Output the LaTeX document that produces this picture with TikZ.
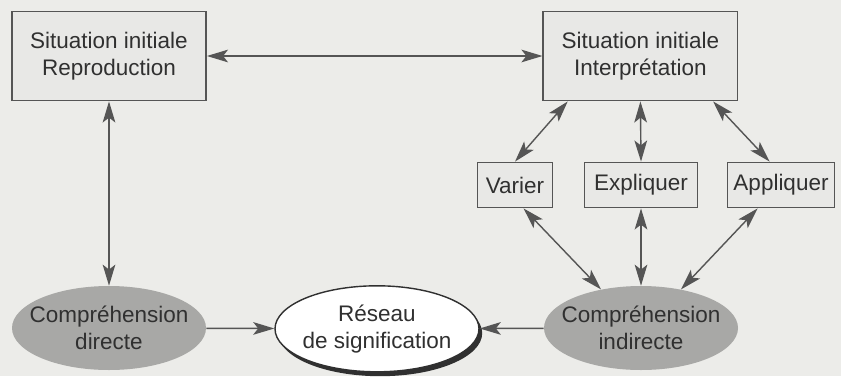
\documentclass[tikz,border=0pt]{standalone}
\usepackage{fontspec}
\setmainfont{Liberation Sans}
\usetikzlibrary{shapes.geometric,arrows.meta,shadows}

\definecolor{papier}{RGB}{236,236,233}
\definecolor{boxgris}{RGB}{232,232,230}
\definecolor{ellgris}{RGB}{168,168,166}
\definecolor{trait}{RGB}{85,85,85}
\definecolor{encre}{RGB}{48,48,48}

\begin{document}
\begin{tikzpicture}[
    >={Stealth[length=15pt, width=9pt, inset=3.5pt]},
    every node/.style={font=\fontsize{16}{19}\selectfont, text=encre, align=center},
    situation/.style={draw=trait, line width=1.3pt, fill=boxgris, minimum width=4.85cm, minimum height=2.225cm},
    activite/.style={draw=trait, line width=1.3pt, fill=boxgris, minimum height=1.125cm, inner xsep=0pt},
    compr/.style={ellipse, fill=ellgris, minimum width=4.85cm, minimum height=2.1cm, inner xsep=-10pt, inner ysep=0pt},
    reseau/.style={ellipse, draw=encre, line width=1pt, fill=white, minimum width=5.1cm, minimum height=2.15cm,
        inner xsep=-5pt, inner ysep=0pt,
        drop shadow={shadow xshift=0.08cm, shadow yshift=-0.11cm, fill=encre, opacity=1}},
    lien/.style={draw=trait, line width=1pt}
]
    % Background
    \fill[papier] (0, 0) rectangle (21.025, 9.4);
    \useasboundingbox (0, 0) rectangle (21.025, 9.4);

    % Situations initiales
    \node[situation] (repro) at (2.725, 8.0) {Situation initiale\\Reproduction};
    \node[situation] (interp) at (16.01, 8.0) {Situation initiale\\Interprétation};

    % Activities
    \node[activite, minimum width=1.875cm] (varier) at (12.875, 4.775) {Varier};
    \node[activite, minimum width=2.825cm] (expliquer) at (16.025, 4.775) {Expliquer};
    \node[activite, minimum width=2.675cm] (appliquer) at (19.525, 4.775) {Appliquer};

    % Comprehension
    \node[compr] (directe) at (2.725, 1.2) {Compréhension\\directe};
    \node[reseau] (reseau) at (9.425, 1.18) {Réseau\\de signification};
    \node[compr] (indirecte) at (16.025, 1.2) {Compréhension\\indirecte};

    % Arrows
    \draw[lien, <->] (repro) -- (interp);
    \draw[lien, <->] (repro) -- (directe);
    \draw[lien, ->] (directe) -- (reseau);
    \draw[lien, ->] (indirecte) -- (reseau);

    \draw[lien, <->] (interp.-148) -- (varier.north);
    \draw[lien, <->] (interp.south) -- (expliquer.north);
    \draw[lien, <->] (interp.-32) -- (appliquer.116);

    \draw[lien, <->] (varier.-70) -- (indirecte.136);
    \draw[lien, <->] (expliquer.south) -- (indirecte.north);
    \draw[lien, <->] (appliquer.-135) -- (indirecte.44);

\end{tikzpicture}
\end{document}
